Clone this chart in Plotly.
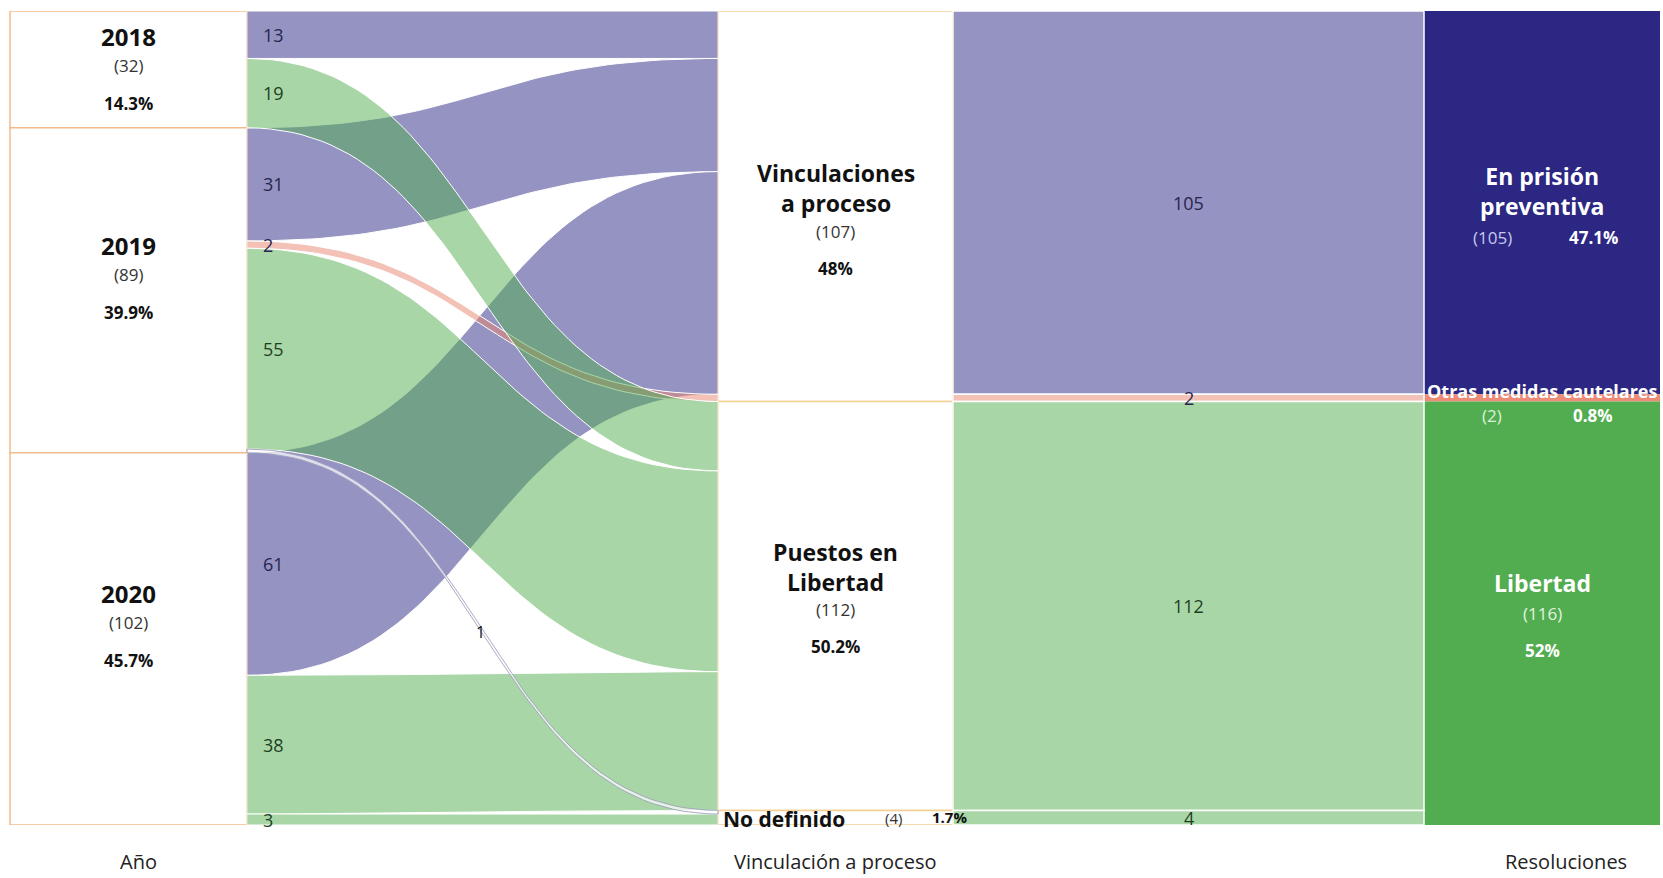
import numpy as np
import plotly.graph_objects as go

# ---------------------------------------------------------------------------
# Data
# ---------------------------------------------------------------------------
YEARS = ["2018", "2019", "2020"]
YEAR_TOTALS = [32, 89, 102]
YEAR_PCT = ["14.3%", "39.9%", "45.7%"]

STAGES = ["Vinculaciones<br>a proceso", "Puestos en<br>Libertad", "No definido"]
STAGE_TOTALS = [107, 112, 4]
STAGE_PCT = ["48%", "50.2%", "1.7%"]

RESULTS = ["En prisión<br>preventiva", "Otras medidas cautelares", "Libertad"]
RESULT_TOTALS = [105, 2, 116]
RESULT_PCT = ["47.1%", "0.8%", "52%"]

# year -> stage links (listed in source order); kind = colour group
L1_SRC = [0, 0, 1, 1, 1, 1, 2, 2, 2]
L1_TGT = [0, 1, 0, 0, 1, 2, 0, 1, 2]
L1_VAL = [13, 19, 31, 2, 55, 1, 61, 38, 3]
L1_KIND = ["prision", "libertad", "prision", "otras", "libertad", "nodef",
           "prision", "libertad", "libertad"]

# stage -> result links
L2_SRC = [0, 0, 1, 2]
L2_TGT = [0, 1, 2, 2]
L2_VAL = [105, 2, 112, 4]
L2_KIND = ["prision", "otras", "libertad", "libertad"]

# ---------------------------------------------------------------------------
# Style
# ---------------------------------------------------------------------------
FONT = "Open Sans"
NODE_COL = {"prision": "#2B2783", "otras": "#EC8C78", "libertad": "#52AD50"}
LINK_COL = {"prision": "rgba(43,39,131,0.5)", "otras": "rgba(232,131,110,0.5)",
            "libertad": "rgba(82,173,80,0.5)", "nodef": "rgba(255,255,255,0.7)"}
LINK_EDGE = {"prision": "white", "otras": "white", "libertad": "white",
             "nodef": "rgba(160,160,190,0.9)"}
LABEL_COL = {"prision": "#26264f", "otras": "#26264f", "libertad": "#1f3f1f",
             "nodef": "#111111"}
DRAW_ORDER = ["prision", "otras", "libertad", "nodef"]

X_LEFT = (10, 247)
X_MID = (718, 953)
X_RIGHT = (1424, 1660)
TOTAL = sum(YEAR_TOTALS)
W, H = 1663, 878
M_T, M_B = 11, 53
PX = (H - M_T - M_B) / TOTAL   # pixels per unit


def stack(values):
    tops = np.concatenate([[0], np.cumsum(values)[:-1]])
    return tops, tops + np.array(values)


def ribbon(x0, x1, s0, s1, t0, t1, n=60):
    t = np.linspace(0, 1, n)
    xm = (x0 + x1) / 2
    bx = (1 - t) ** 3 * x0 + 3 * (1 - t) ** 2 * t * xm + 3 * (1 - t) * t ** 2 * xm + t ** 3 * x1
    ease = 3 * t ** 2 - 2 * t ** 3
    top = s0 + (t0 - s0) * ease
    bot = s1 + (t1 - s1) * ease
    return np.concatenate([bx, bx[::-1], [bx[0]]]), np.concatenate([top, bot[::-1], [top[0]]])


def link_positions(src, tgt, val, kind, src_tot, tgt_tot):
    s_top, _ = stack(src_tot)
    t_top, _ = stack(tgt_tot)
    s_off = list(s_top)
    pos = [None] * len(val)
    for i in range(len(val)):
        pos[i] = [s_off[src[i]], s_off[src[i]] + val[i], 0, 0]
        s_off[src[i]] += val[i]
    t_off = list(t_top)
    order = sorted(range(len(val)), key=lambda i: (tgt[i], kind[i] == "otras", src[i]))
    for i in order:
        pos[i][2] = t_off[tgt[i]]
        pos[i][3] = t_off[tgt[i]] + val[i]
        t_off[tgt[i]] += val[i]
    return pos


fig = go.Figure()
annotations = []

pos1 = link_positions(L1_SRC, L1_TGT, L1_VAL, L1_KIND, YEAR_TOTALS, STAGE_TOTALS)
pos2 = link_positions(L2_SRC, L2_TGT, L2_VAL, L2_KIND, STAGE_TOTALS, RESULT_TOTALS)

for k in DRAW_ORDER:
    for i, p in enumerate(pos1):
        if L1_KIND[i] != k:
            continue
        xs, ys = ribbon(X_LEFT[1], X_MID[0], *p)
        fig.add_trace(go.Scatter(x=xs, y=ys, fill="toself", fillcolor=LINK_COL[k],
                                 line=dict(color=LINK_EDGE[k], width=1),
                                 mode="lines", hoverinfo="skip", showlegend=False))
    for i, p in enumerate(pos2):
        if L2_KIND[i] != k:
            continue
        xs, ys = ribbon(X_MID[1], X_RIGHT[0], *p)
        fig.add_trace(go.Scatter(x=xs, y=ys, fill="toself", fillcolor=LINK_COL[k],
                                 line=dict(color=LINK_EDGE[k], width=1.5),
                                 mode="lines", hoverinfo="skip", showlegend=False))

# link value labels
for i, p in enumerate(pos1):
    if L1_KIND[i] == "nodef":
        annotations.append(dict(x=(X_LEFT[1] + X_MID[0]) / 2 - 2,
                                y=((p[0] + p[1]) / 2 + (p[2] + p[3]) / 2) / 2,
                                text=str(L1_VAL[i]), showarrow=False,
                                font=dict(size=16, color="#111", family=FONT)))
    else:
        annotations.append(dict(x=X_LEFT[1] + 14, y=(p[0] + p[1]) / 2, xanchor="left",
                                text=str(L1_VAL[i]), showarrow=False,
                                font=dict(size=18, color=LABEL_COL[L1_KIND[i]], family=FONT)))
for i, p in enumerate(pos2):
    annotations.append(dict(x=(X_MID[1] + X_RIGHT[0]) / 2, y=(p[0] + p[1]) / 2,
                            text=str(L2_VAL[i]), showarrow=False,
                            font=dict(size=18, color=LABEL_COL[L2_KIND[i]], family=FONT)))

shapes = []


def txt(x, y, text, size, color, bold=False, dy=0, xanchor="center"):
    annotations.append(dict(x=x, y=y, yshift=-dy, xanchor=xanchor,
                            text=f"<b>{text}</b>" if bold else text, showarrow=False,
                            font=dict(size=size, color=color, family=FONT)))


# left nodes (years)
tops, bots = stack(YEAR_TOTALS)
cx = sum(X_LEFT) / 2
for i, name in enumerate(YEARS):
    shapes.append(dict(type="rect", x0=X_LEFT[0], x1=X_LEFT[1], y0=tops[i], y1=bots[i],
                       fillcolor="white", line=dict(color="#F2BA8C", width=1.5), layer="below"))
    c = (tops[i] + bots[i]) / 2
    dy = max(-45, (tops[i] - c) * PX + 26)
    txt(cx, c, name, 24, "#111", True, dy)
    txt(cx, c, f"({YEAR_TOTALS[i]})", 17, "#333", False, dy + 29)
    txt(cx, c, YEAR_PCT[i], 17, "#111", True, dy + 67)

# middle nodes (stages)
tops, bots = stack(STAGE_TOTALS)
cx = sum(X_MID) / 2
stage_dy = [-18, -39]
for i, name in enumerate(STAGES):
    shapes.append(dict(type="rect", x0=X_MID[0], x1=X_MID[1], y0=tops[i], y1=bots[i],
                       fillcolor="white", line=dict(color="#F3CF94", width=1.5), layer="below"))
    c = (tops[i] + bots[i]) / 2
    if "<br>" in name:
        dy = stage_dy[i]
        txt(cx, c, name, 23, "#111", True, dy)
        txt(cx, c, f"({STAGE_TOTALS[i]})", 17, "#333", False, dy + 43)
        txt(cx, c, STAGE_PCT[i], 17, "#111", True, dy + 80)
    else:
        txt(X_MID[0] + 3, c, name, 21, "#111", True, 1, xanchor="left")
        txt(X_MID[0] + 175, c, f"({STAGE_TOTALS[i]})", 15, "#333", False, 0)
        txt(X_MID[0] + 231, c, STAGE_PCT[i], 15, "#111", True, -1)

# right nodes (results)
tops, bots = stack(RESULT_TOTALS)
cx = sum(X_RIGHT) / 2
kinds = ["prision", "otras", "libertad"]
sub = {"prision": "#C9C8EE", "otras": "#DDF0DC", "libertad": "#E2F4E0"}
for i, name in enumerate(RESULTS):
    k = kinds[i]
    shapes.append(dict(type="rect", x0=X_RIGHT[0], x1=X_RIGHT[1], y0=tops[i], y1=bots[i],
                       fillcolor=NODE_COL[k], line=dict(width=0), layer="below"))
    c = (tops[i] + bots[i]) / 2
    if k == "prision":
        txt(cx, c, name, 23, "white", True, -12)
        txt(cx - 50, c, f"({RESULT_TOTALS[i]})", 17, sub[k], False, 35)
        txt(cx + 51, c, RESULT_PCT[i], 17, "white", True, 35)
    elif k == "otras":
        txt(cx, c, name, 18, "white", True, -7)
        txt(cx - 50, c, f"({RESULT_TOTALS[i]})", 17, sub[k], False, 18)
        txt(cx + 51, c, RESULT_PCT[i], 17, "white", True, 18)
    else:
        txt(cx, c, name, 23, "white", True, -30)
        txt(cx, c, f"({RESULT_TOTALS[i]})", 17, sub[k], False, 0)
        txt(cx, c, RESULT_PCT[i], 17, "white", True, 37)

# column titles
for x, t in [(138, "Año"), (sum(X_MID) / 2, "Vinculación a proceso"), (1566, "Resoluciones")]:
    annotations.append(dict(x=x, xref="x", y=0, yref="paper", yshift=-52, text=t,
                            showarrow=False, font=dict(size=20, color="#222", family=FONT)))

fig.update_layout(
    width=W, height=H,
    margin=dict(l=0, r=0, t=M_T, b=M_B),
    paper_bgcolor="white", plot_bgcolor="white",
    font=dict(family=FONT),
    xaxis=dict(range=[0, W], visible=False, fixedrange=True),
    yaxis=dict(range=[TOTAL, 0], visible=False, fixedrange=True),
    shapes=shapes,
    annotations=annotations,
    showlegend=False,
)

# drop the default page margin so the figure sits flush with the window
fig.write_html("out.html", config={"displayModeBar": False},
               post_script="document.body.style.margin='0';document.body.style.overflow='hidden';")
